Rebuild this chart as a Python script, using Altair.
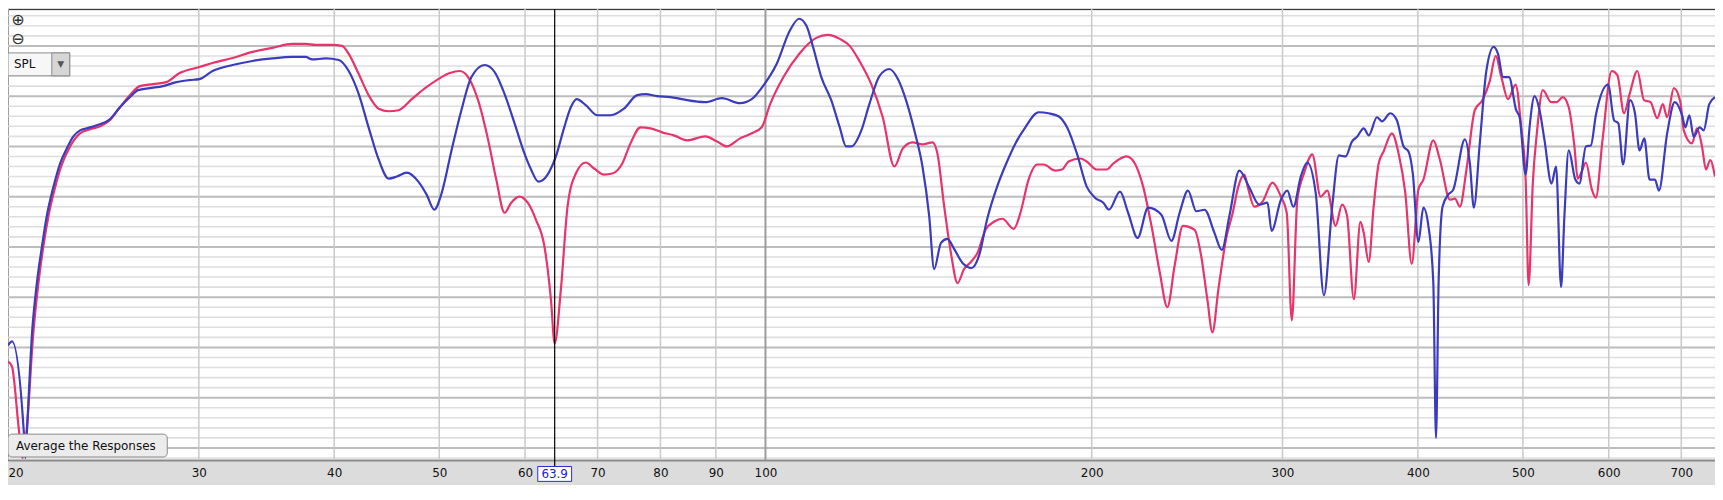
import altair as alt
import pandas as pd

# ---------------- data ----------------
FREQ_TICKS = [20, 30, 40, 50, 60, 70, 80, 90, 100, 200, 300, 400, 500, 600, 700]
DB_GRID = list(range(44, 89))
CURSOR_FREQ = [63.9]
CURSOR_LABEL = ["63.9"]

BLUE_FREQ = [20.0, 20.17, 20.68, 20.75, 20.82, 21.05, 21.27, 21.50, 21.72, 22.03, 22.34, 22.66, 22.98,
             23.31, 23.64, 24.15, 24.83, 25.37, 25.91, 26.37, 27.03, 27.80, 28.60, 29.41, 30.04,
             30.89, 32.23, 33.62, 35.07, 36.59, 37.64, 38.17, 39.27, 40.39, 41.25, 42.14, 43.03,
             43.96, 44.90, 45.69, 46.67, 47.83, 48.68, 49.48, 50.24, 51.32, 52.41, 53.54, 55.07,
             56.25, 57.45, 58.68, 59.92, 60.77, 61.72, 62.95, 64.06, 65.21, 66.13, 66.97, 68.26,
             69.97, 71.97, 74.03, 76.14, 77.50, 79.44, 81.71, 82.87, 84.65, 87.99, 91.15, 94.74,
             97.12, 99.55, 102.4, 105.3, 107.4, 109.1, 110.7, 112.6, 115.0, 117.1, 118.7, 120.0,
             122.6, 124.7, 127.4, 130.1, 132.5, 134.8, 137.2, 139.6, 141.6, 143.1, 145.2, 147.2,
             149.3, 152.0, 155.0, 157.4, 160.2, 163.6, 167.1, 170.1, 173.7, 178.7, 182.5, 186.4,
             189.8, 193.8, 197.9, 201.4, 205.0, 207.5, 212.4, 216.1, 220.5, 225.5, 231.9, 236.9,
             241.1, 245.4, 249.8, 254.2, 259.6, 263.7, 268.0, 273.7, 279.6, 285.6, 290.6, 293.1,
             299.0, 303.1, 307.0, 311.9, 316.2, 321.9, 327.6, 333.4, 338.2, 343.0, 347.8, 351.5,
             356.5, 360.3, 366.7, 370.6, 377.2, 382.5, 388.0, 392.1, 395.7, 400.4, 404.7, 409.0,
             413.3, 415.7, 418.0, 421.5, 426.6, 431.2, 442.0, 446.7, 450.5, 456.2, 462.6, 469.9,
             474.2, 479.3, 485.4, 492.9, 496.5, 502.9, 507.1, 512.5, 518.0, 523.5, 531.3, 536.5,
             542.2, 546.1, 551.1, 558.9, 563.7, 571.6, 577.7, 583.8, 599.2, 606.9, 612.4, 618.6,
             627.8, 634.4, 640.6, 647.1, 654.4, 661.9, 667.5, 679.3, 690.4, 701.2, 706.1, 712.1,
             718.7, 727.9, 734.1, 742.9, 751.9]
BLUE_DB = [55.2, 55.6, 46.7, 44.0, 46.7, 56.5, 61.5, 65.1, 68.1, 71.0, 73.3, 74.8, 76.0,
           76.6, 76.8, 77.1, 77.7, 78.9, 79.9, 80.6, 80.8, 81.0, 81.4, 81.6, 81.7,
           82.5, 83.1, 83.5, 83.75, 83.9, 83.9, 83.65, 83.75, 83.6, 82.5, 80.2, 76.9,
           73.7, 71.8, 72.0, 72.4, 71.5, 70.2, 68.7, 70.3, 74.6, 78.6, 81.9, 83.1,
           82.4, 80.2, 77.3, 74.3, 72.7, 71.5, 72.2, 74.0, 76.9, 78.9, 79.7, 79.1,
           78.1, 78.1, 78.75, 80.1, 80.2, 80.0, 79.9, 79.8, 79.6, 79.4, 79.8, 79.3,
           79.7, 81.05, 83.2, 86.5, 87.7, 87.0, 84.8, 81.9, 79.6, 76.9, 75.0, 75.0,
           76.6, 79.2, 82.0, 82.7, 81.7, 79.6, 76.6, 73.0, 68.1, 62.8, 65.4, 65.8,
           64.8, 63.4, 62.9, 64.1, 67.8, 71.0, 73.5, 75.3, 76.9, 78.4, 78.3, 78.0,
           76.9, 74.3, 71.0, 69.9, 69.4, 68.7, 70.5, 68.4, 65.9, 68.9, 68.2, 65.6,
           68.4, 70.6, 68.55, 68.7, 66.4, 64.7, 68.1, 72.6, 70.9, 69.2, 69.4, 66.6,
           69.7, 70.6, 69.0, 72.0, 73.4, 70.4, 60.2, 69.0, 74.1, 74.0, 75.5, 75.95,
           76.8, 76.1, 77.9, 77.5, 78.3, 77.6, 75.0, 74.5, 72.3, 65.5, 68.9, 67.1,
           61.5, 46.0, 61.5, 69.0, 70.2, 70.7, 75.7, 73.3, 68.9, 75.3, 82.5, 84.9,
           84.2, 81.9, 81.9, 78.6, 77.9, 72.2, 76.9, 80.0, 78.6, 75.6, 71.3, 73.0,
           61.0, 68.1, 74.6, 71.7, 71.3, 75.0, 75.1, 78.1, 81.15, 77.6, 77.3, 73.2,
           79.6, 78.3, 74.6, 75.8, 71.7, 71.7, 70.6, 76.3, 79.4, 78.1, 76.9, 78.1,
           75.95, 76.9, 76.6, 79.2, 79.9]

RED_FREQ = [20.0, 20.17, 20.46, 20.62, 20.80, 21.10, 21.33, 21.55, 21.78, 22.09, 22.39, 22.82,
            23.31, 23.81, 24.32, 24.83, 25.37, 25.91, 26.46, 27.22, 28.00, 28.80, 30.04, 30.89,
            32.23, 33.62, 35.07, 36.59, 37.64, 38.45, 39.82, 40.67, 41.25, 42.14, 43.03, 43.96,
            44.90, 45.86, 47.16, 48.52, 49.90, 51.14, 52.24, 53.16, 54.30, 55.46, 56.44, 57.45,
            58.26, 59.30, 60.34, 61.41, 62.51, 63.39, 63.90, 64.75, 65.67, 66.83, 68.26, 69.49,
            70.97, 72.22, 73.77, 75.07, 76.68, 78.32, 80.29, 82.30, 84.65, 87.99, 90.19, 92.12,
            94.74, 97.12, 99.20, 101.0, 103.9, 107.6, 111.4, 114.2, 117.1, 119.6, 122.1, 125.2,
            128.3, 131.5, 133.9, 136.7, 139.6, 142.6, 144.1, 146.2, 148.3, 150.4, 152.5, 154.7,
            156.9, 159.6, 162.5, 165.4, 169.5, 171.9, 174.9, 178.1, 180.6, 185.1, 187.8, 190.4,
            195.2, 197.9, 202.2, 206.5, 209.4, 215.4, 219.2, 223.1, 227.1, 231.1, 234.9, 238.6,
            242.8, 248.9, 252.4, 255.7, 258.5, 261.8, 266.1, 269.9, 273.1, 276.6, 278.6, 282.5,
            287.5, 293.7, 299.0, 302.7, 306.0, 309.6, 314.0, 319.6, 325.3, 329.9, 335.8, 340.5,
            344.1, 349.1, 354.0, 356.5, 360.3, 364.1, 368.0, 371.9, 378.5, 383.9, 389.4, 394.8,
            400.4, 404.7, 413.3, 419.2, 428.2, 432.8, 437.3, 443.5, 451.4, 458.7, 466.0, 471.9,
            477.6, 484.4, 492.3, 498.2, 502.9, 506.1, 510.7, 515.0, 521.6, 530.9, 537.3, 544.1,
            551.1, 557.8, 561.7, 565.6, 571.6, 578.9, 583.8, 592.1, 603.8, 611.1, 619.9, 627.2,
            637.6, 646.7, 655.7, 665.1, 673.1, 679.3, 689.0, 698.7, 703.7, 716.2, 723.8, 731.5,
            737.7, 744.4, 751.9]
RED_DB = [53.6, 53.1, 47.0, 44.0, 46.5, 56.3, 61.3, 64.9, 67.9, 70.8, 73.0, 75.0,
          76.3, 76.7, 77.0, 77.6, 78.9, 80.1, 81.0, 81.2, 81.4, 82.3, 82.9, 83.3,
          83.8, 84.4, 84.8, 85.2, 85.2, 85.1, 85.1, 85.0, 84.2, 82.2, 80.1, 78.75,
          78.5, 78.6, 79.7, 80.8, 81.7, 82.3, 82.5, 81.9, 79.6, 75.7, 71.7, 68.4,
          69.4, 70.0, 69.4, 67.7, 65.1, 59.8, 55.4, 60.8, 69.0, 72.3, 73.4, 72.8,
          72.2, 72.3, 73.3, 75.3, 76.9, 76.8, 76.4, 76.1, 75.6, 76.0, 75.5, 75.0,
          75.8, 76.3, 76.9, 79.2, 81.9, 84.3, 85.8, 86.1, 85.7, 85.0, 83.5, 81.2,
          77.9, 73.0, 74.8, 75.4, 75.2, 75.4, 74.3, 69.0, 64.4, 61.4, 62.8, 63.5,
          64.4, 66.7, 67.5, 67.8, 66.8, 68.4, 71.7, 73.2, 73.2, 72.6, 72.7, 73.5,
          73.8, 73.5, 72.7, 72.7, 73.3, 74.0, 73.3, 71.0, 67.1, 62.5, 59.0, 63.2,
          67.1, 66.7, 64.1, 59.8, 56.5, 60.8, 65.8, 68.4, 71.0, 72.2, 71.0, 69.0,
          69.5, 71.4, 70.0, 68.4, 57.7, 69.7, 72.3, 74.2, 70.0, 70.6, 67.1, 69.2,
          68.1, 59.8, 67.5, 66.4, 63.5, 69.0, 73.3, 74.5, 76.3, 74.3, 70.4, 63.3,
          70.7, 71.7, 75.6, 73.65, 69.7, 69.8, 69.0, 72.7, 78.6, 79.6, 81.5, 84.0,
          81.9, 79.7, 81.15, 76.9, 71.7, 61.2, 71.5, 76.3, 80.6, 79.4, 79.4, 79.9,
          78.9, 75.0, 71.8, 72.3, 73.4, 70.7, 69.9, 75.6, 82.5, 82.1, 78.3, 80.2,
          82.5, 79.6, 79.4, 77.8, 79.2, 77.9, 80.8, 79.4, 76.6, 75.3, 76.8, 75.0,
          72.7, 73.65, 72.0]

# ---------------- chart ----------------
W, H = 1715, 453
X_DOMAIN = [20, 752]
Y_DOMAIN = [43.8, 88.66]
FONT = "DejaVu Sans"
RED = "#e8336b"
BLUE = "#3b3bbd"

blue_df = pd.DataFrame({"freq": BLUE_FREQ, "db": BLUE_DB})
red_df = pd.DataFrame({"freq": RED_FREQ, "db": RED_DB})
cursor_df = pd.DataFrame({"freq": CURSOR_FREQ, "label": CURSOR_LABEL})
minor_df = pd.DataFrame({"db": [v for v in DB_GRID if v % 5 != 0]})
major_df = pd.DataFrame({"db": [v for v in DB_GRID if v % 5 == 0]})
vgrid_df = pd.DataFrame({"freq": [f for f in FREQ_TICKS if f != 100]})
vgrid100_df = pd.DataFrame({"freq": [f for f in FREQ_TICKS if f == 100]})
one = pd.DataFrame({"k": [0]})

x_scale = alt.Scale(type="log", domain=X_DOMAIN, nice=False, zero=False)
y_scale = alt.Scale(domain=Y_DOMAIN, nice=False, zero=False)

x_axis = alt.Axis(
    values=FREQ_TICKS, format="d", title=None, ticks=False, labelPadding=8,
    labelFont=FONT, labelFontSize=12, labelColor="#111", labelOverlap=False,
    labelFlush=True, labelBound=False, domainColor="#8a8a8a", domainWidth=2,
    grid=False, minExtent=24, maxExtent=24,
)

grid_minor = alt.Chart(minor_df).mark_rule(color="#dedede", strokeWidth=1.6).encode(
    y=alt.Y("db:Q", scale=y_scale, axis=None))
grid_major = alt.Chart(major_df).mark_rule(color="#bdbdbd", strokeWidth=2).encode(
    y=alt.Y("db:Q", scale=y_scale, axis=None))
grid_v = alt.Chart(vgrid_df).mark_rule(color="#c9c9c9", strokeWidth=1.5).encode(
    x=alt.X("freq:Q", scale=x_scale, axis=x_axis))
grid_v100 = alt.Chart(vgrid100_df).mark_rule(color="#9c9c9c", strokeWidth=2).encode(
    x=alt.X("freq:Q", scale=x_scale))

red_line = alt.Chart(red_df).mark_line(color=RED, strokeWidth=2.2, interpolate="monotone", clip=True).encode(
    x=alt.X("freq:Q", scale=x_scale), y=alt.Y("db:Q", scale=y_scale))
blue_line = alt.Chart(blue_df).mark_line(color=BLUE, strokeWidth=2.2, interpolate="monotone", clip=True).encode(
    x=alt.X("freq:Q", scale=x_scale), y=alt.Y("db:Q", scale=y_scale))

cursor_rule = alt.Chart(cursor_df).mark_rule(color="#000", strokeWidth=1.2).encode(
    x="freq:Q", y=alt.value(0), y2=alt.value(459))
cursor_box = alt.Chart(cursor_df).mark_point(
    shape="M-1,-0.44L1,-0.44L1,0.44L-1,0.44Z", size=1156, filled=True, fill="white",
    stroke="#2a2ad6", strokeWidth=1, opacity=1).encode(x="freq:Q", y=alt.value(467))
cursor_text = alt.Chart(cursor_df).mark_text(
    font=FONT, fontSize=12, color="#2020c8", baseline="middle", align="center").encode(
    x="freq:Q", y=alt.value(467.5), text="label:N")

plus_txt = alt.Chart(one).mark_text(text="⊕", font=FONT, fontSize=16, color="#333",
                                    align="center", baseline="middle").encode(x=alt.value(10), y=alt.value(11))
minus_txt = alt.Chart(one).mark_text(text="⊖", font=FONT, fontSize=16, color="#333",
                                     align="center", baseline="middle").encode(x=alt.value(10), y=alt.value(30))

spl_box = alt.Chart(one).mark_rect(fill="#f7f7f7", stroke="#8c8c8c", strokeWidth=1).encode(
    x=alt.value(0), x2=alt.value(62), y=alt.value(44), y2=alt.value(67))
spl_btn = alt.Chart(one).mark_rect(fill="#d6d6d6", stroke="#8c8c8c", strokeWidth=1).encode(
    x=alt.value(44), x2=alt.value(62), y=alt.value(44), y2=alt.value(67))
spl_txt = alt.Chart(one).mark_text(text="SPL", font=FONT, fontSize=12, color="#111",
                                   align="left", baseline="middle").encode(x=alt.value(6), y=alt.value(55.5))
spl_arrow = alt.Chart(one).mark_text(text="▼", font=FONT, fontSize=9, color="#555",
                                     align="center", baseline="middle").encode(x=alt.value(53), y=alt.value(55.5))

avg_btn = alt.Chart(one).mark_rect(fill="#ececec", stroke="#8a8a8a", strokeWidth=1, cornerRadius=4).encode(
    x=alt.value(0), x2=alt.value(160), y=alt.value(427), y2=alt.value(450))
avg_txt = alt.Chart(one).mark_text(text="Average the Responses", font=FONT, fontSize=12, color="#111",
                                   align="left", baseline="middle").encode(x=alt.value(8), y=alt.value(439))

chart = alt.layer(
    grid_minor, grid_major, grid_v, grid_v100,
    red_line, blue_line, cursor_rule, cursor_box, cursor_text,
    plus_txt, minus_txt, spl_box, spl_btn, spl_txt, spl_arrow, avg_btn, avg_txt,
).properties(
    width=W, height=H,
    autosize=alt.AutoSizeParams(type="none"),
    padding={"left": 0, "top": 0, "right": 0, "bottom": 24},
    background="#dcdcdc",
).configure_view(fill="white", stroke="#222", strokeWidth=1)

chart.save("out.html", embed_options={"renderer": "svg", "actions": False})
